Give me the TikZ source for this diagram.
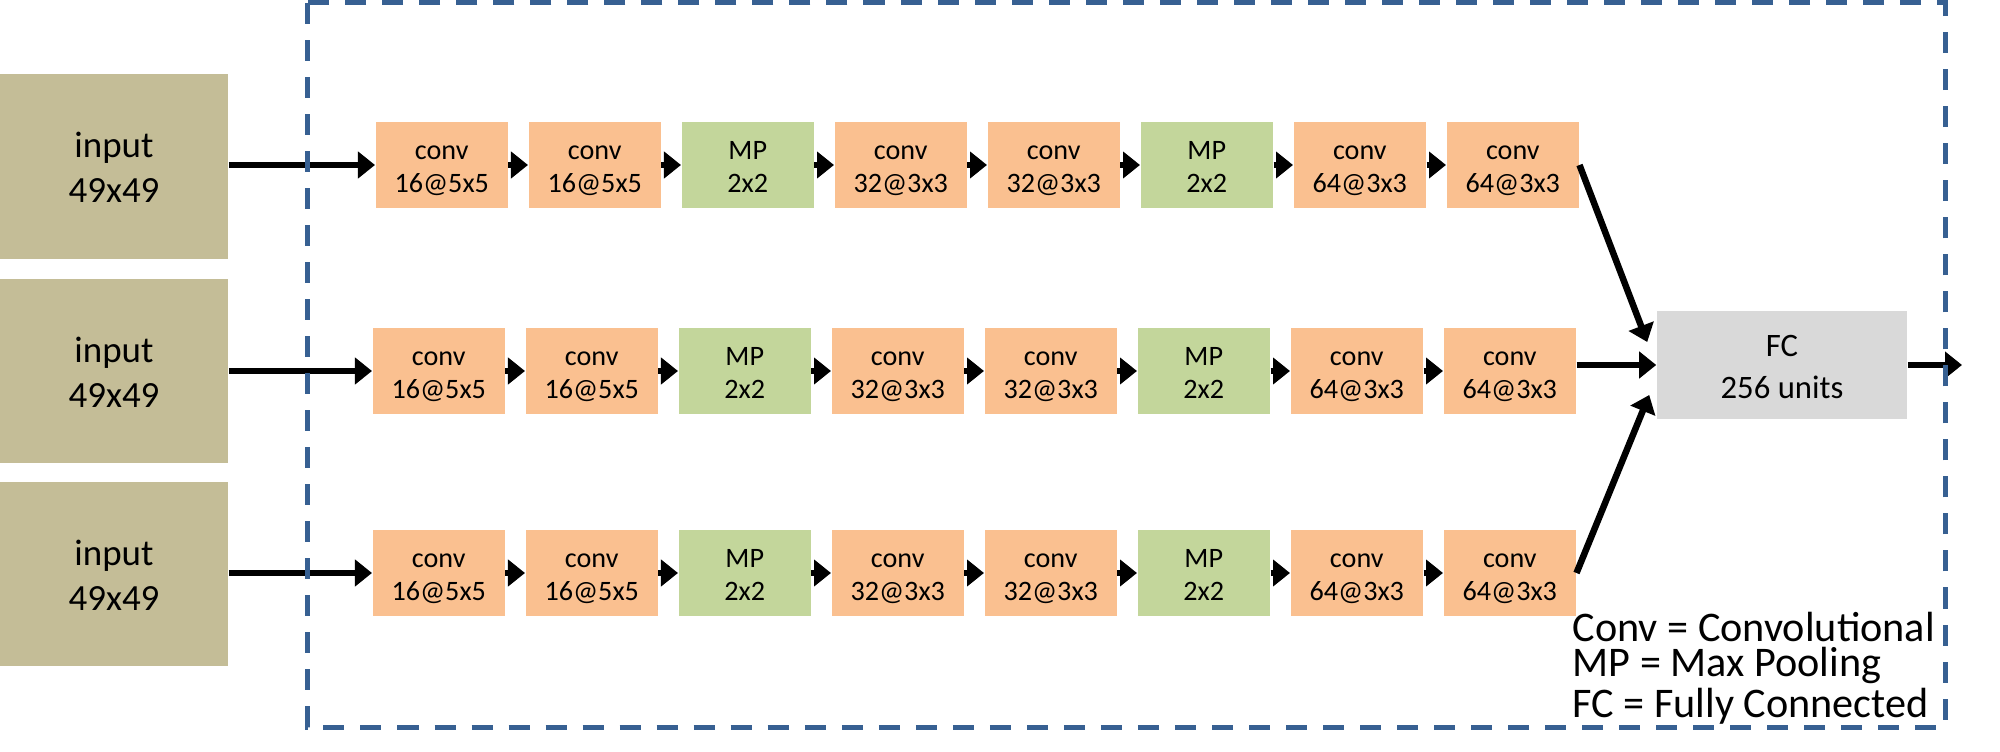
\documentclass[tikz,border=0pt]{standalone}
\usepackage{fontspec}
\setmainfont{Carlito}
\usetikzlibrary{arrows.meta,calc}
\definecolor{inputc}{HTML}{C4BD97}
\definecolor{convc}{HTML}{FAC090}
\definecolor{mpc}{HTML}{C3D69B}
\definecolor{fcc}{HTML}{D9D9D9}
\definecolor{dashc}{HTML}{376092}
\begin{document}
\begin{tikzpicture}[x=0.01cm,y=-0.01cm,
  box/.style={draw=none, minimum width=1.32cm, minimum height=0.85cm, inner sep=0pt,
    align=center, font=\fontsize{8}{9.4}\selectfont, anchor=west,
    text height=16.9pt, text depth=1pt},
  convbox/.style={box, fill=convc},
  mpbox/.style={box, fill=mpc},
  inbox/.style={fill=inputc, minimum width=2.28cm, minimum height=1.84cm, inner sep=0pt,
    align=center, font=\fontsize{10.5}{12.7}\selectfont,
    text height=21.5pt, text depth=1pt},
  fcbox/.style={fill=fcc, minimum width=2.5cm, minimum height=1.08cm, inner sep=0pt,
    align=center, font=\fontsize{9.3}{11.9}\selectfont,
    text height=19.8pt, text depth=1pt},
  arr/.style={line width=0.065cm, -{Triangle[length=0.17cm,width=0.26cm]}},
  legend/.style={anchor=base west, inner sep=0pt, align=left,
    font=\fontsize{12}{9.96}\selectfont},
  dashbox/.style={draw=dashc, line width=0.05cm, dash pattern=on 0.21cm off 0.16cm}
]
\useasboundingbox (0,0) rectangle (2000,752);

% inputs
\node[inbox] (in1) at (114,166.5) {input\\49x49};
\node[inbox] (in2) at (114,371) {input\\49x49};
\node[inbox] (in3) at (114,574) {input\\49x49};

% rows of layers
\foreach \r/\yy/\xx in {1/165/375,2/371/372,3/573/372}{
  \foreach \i/\sty/\lab in {0/convbox/{conv\\16@5x5},1/convbox/{conv\\16@5x5},
      2/mpbox/{MP\\2x2},3/convbox/{conv\\32@3x3},4/convbox/{conv\\32@3x3},
      5/mpbox/{MP\\2x2},6/convbox/{conv\\64@3x3},7/convbox/{conv\\64@3x3}}{
    \node[\sty] (b\r\i) at (\xx+153*\i,\yy) {\lab};
  }
  \foreach \i [count=\j from 1] in {0,...,6}{
    \draw[arr] (b\r\i.east) -- (b\r\j.west);
  }
  \draw[arr] (in\r.east |- b\r0.west) -- (b\r0.west);
}

% fully connected
\node[fcbox] (fc) at (1782,365) {FC\\256 units};
\coordinate (out) at (1962,365);

\draw[arr] (b17.east) -- ($(fc.west)+(-9,-23)$);
\draw[arr] (b27.east |- fc.west) -- (fc.west);
\draw[arr] (b37.east) -- ($(fc.west)+(-7,30)$);
\draw[arr] (fc.east) -- (out);

% dashed frame
\draw[dashbox] (307,3) rectangle (1945,727);

% legend (base anchor = baseline of last line)
\node[legend] (leg) at (1572,717) {Conv = Convolutional\\MP = Max Pooling\\FC = Fully Connected};
\end{tikzpicture}
\end{document}
